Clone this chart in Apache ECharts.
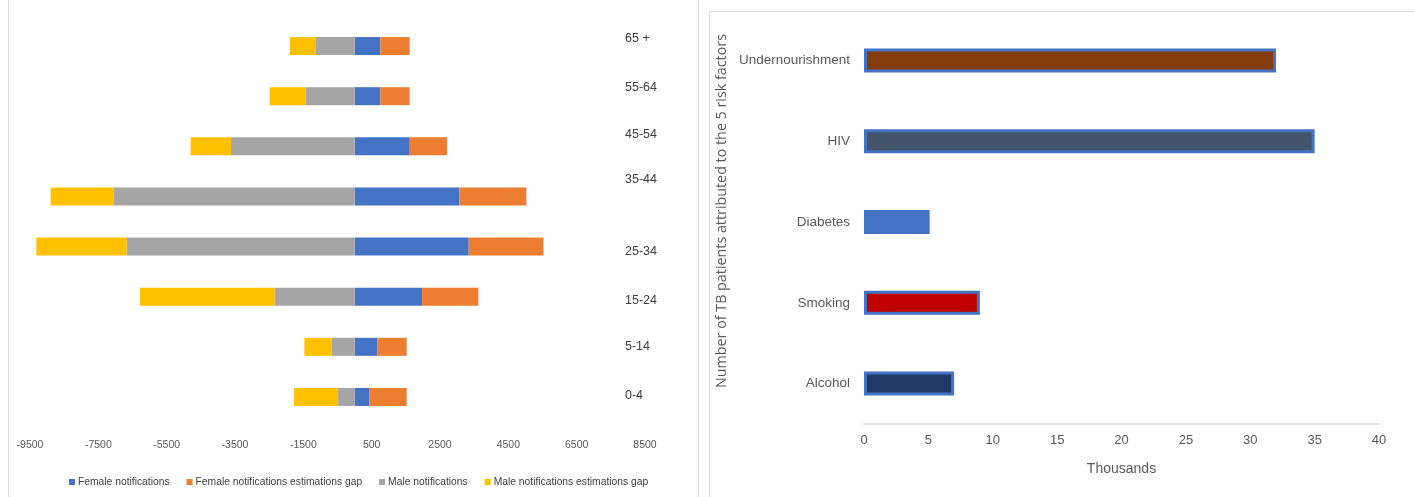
<!DOCTYPE html>
<html>
<head>
<meta charset="utf-8">
<script src="https://cdn.jsdelivr.net/npm/echarts@6/dist/echarts.min.js"></script>
<style>
html, body { margin: 0; padding: 0; background: #fff; }
#chart { width: 1414px; height: 497px; }
</style>
</head>
<body>
<div id="chart"></div>
<script>
// left chart: TB notifications by age group
var ageGroups = ['0-4', '5-14', '15-24', '25-34', '35-44', '45-54', '55-64', '65 +'];
var femaleNotif = [433, 667, 1976, 3340, 3067, 1613, 755, 755];
var femaleGap = [1092, 858, 1648, 2186, 1961, 1095, 858, 858];
var maleNotif = [-483, -679, -2339, -6670, -7060, -3615, -1440, -1150];
var maleGap = [-1288, -790, -3940, -2643, -1835, -1183, -1045, -740];
var pyramidTicks = [-9500, -7500, -5500, -3500, -1500, 500, 2500, 4500, 6500, 8500];

// right chart: risk factors (thousands)
var riskFactors = ['Alcohol', 'Smoking', 'Diabetes', 'HIV', 'Undernourishment'];
var riskValues = [7, 9, 5.1, 35, 32];
var riskColors = ['#1F3864', '#C00000', '#4472C4', '#44546A', '#843C0C'];

var narrow = "'Liberation Sans', Arial, sans-serif";

// small vertical nudges of the age labels, like in the original text boxes
var labelShift = {'0-4': -1, '5-14': 0, '15-24': 4, '25-34': 5, '35-44': -17, '45-54': -12, '55-64': -9, '65 +': -8};
var rich = {};
ageGroups.forEach(function (g, i) {
	var d = labelShift[g];
	rich['s' + i] = {
		fontFamily: narrow,
		fontSize: 12.5,
		color: '#404040',
		padding: d < 0 ? [0, 0, -2 * d, 0] : [2 * d, 0, 0, 0]
	};
});

var myChart = echarts.init(document.getElementById('chart'));
option = {
	animation: false,
	backgroundColor: '#fff',
	graphic: [
		{ type: 'rect', shape: { x: 8.5, y: -2, width: 690, height: 502 }, style: { fill: 'none', stroke: '#d9d9d9', lineWidth: 1 }, silent: true },
		{ type: 'rect', shape: { x: 709.5, y: 11.5, width: 710, height: 492 }, style: { fill: 'none', stroke: '#d9d9d9', lineWidth: 1 }, silent: true }
	],
	legend: {
		data: ['Female notifications', 'Female notifications estimations gap', 'Male notifications', 'Male notifications estimations gap'],
		left: 64,
		top: 472,
		icon: 'rect',
		itemWidth: 6,
		itemHeight: 6,
		itemGap: 17,
		textStyle: { fontFamily: narrow, fontSize: 10.3, color: '#404040', padding: [0, 0, 0, -2] }
	},
	grid: [
		{ left: 30, right: 769, top: 21, height: 401 },
		{ left: 864, right: 35, top: 20, height: 404 }
	],
	xAxis: [
		{
			gridIndex: 0,
			type: 'value',
			min: -9500,
			max: 8500,
			axisLine: { show: false },
			axisTick: { show: false },
			splitLine: { show: false },
			axisLabel: {
				customValues: pyramidTicks,
				formatter: function (v) { return String(v); },
				margin: 18,
				fontFamily: narrow,
				fontSize: 10.5,
				color: '#595959'
			}
		},
		{
			gridIndex: 1,
			type: 'value',
			min: 0,
			max: 40,
			interval: 5,
			name: 'Thousands',
			nameLocation: 'middle',
			nameGap: 38,
			nameTextStyle: { fontFamily: narrow, fontSize: 14, color: '#595959' },
			axisLine: { show: true, lineStyle: { color: '#d9d9d9', width: 1.5 } },
			axisTick: { show: false },
			splitLine: { show: false },
			axisLabel: { margin: 10, fontFamily: narrow, fontSize: 13, color: '#595959' }
		}
	],
	yAxis: [
		{
			gridIndex: 0,
			type: 'category',
			data: ageGroups,
			position: 'right',
			offset: -22,
			axisLine: { show: false },
			axisTick: { show: false },
			axisLabel: {
				margin: 2,
				align: 'left',
				formatter: function (v) {
					return '{s' + ageGroups.indexOf(v) + '|' + v + '}';
				},
				rich: rich
			}
		},
		{
			gridIndex: 1,
			type: 'category',
			data: riskFactors,
			name: 'Number of TB patients attributed to the 5 risk factors',
			nameLocation: 'middle',
			nameGap: 135,
			nameTextStyle: { fontFamily: 'Open Sans', fontSize: 14.3, color: '#595959', padding: [0, 0, 0, 22] },
			axisLine: { show: false },
			axisTick: { show: false },
			axisLabel: { margin: 14, fontFamily: narrow, fontSize: 13.5, color: '#595959' }
		}
	],
	series: [
		{
			name: 'Female notifications', type: 'bar', stack: 'pop', barWidth: 18,
			xAxisIndex: 0, yAxisIndex: 0,
			itemStyle: { color: '#4472C4' }, data: femaleNotif
		},
		{
			name: 'Female notifications estimations gap', type: 'bar', stack: 'pop', barWidth: 18,
			xAxisIndex: 0, yAxisIndex: 0,
			itemStyle: { color: '#ED7D31' }, data: femaleGap
		},
		{
			name: 'Male notifications', type: 'bar', stack: 'pop', barWidth: 18,
			xAxisIndex: 0, yAxisIndex: 0,
			itemStyle: { color: '#A5A5A5' }, data: maleNotif
		},
		{
			name: 'Male notifications estimations gap', type: 'bar', stack: 'pop', barWidth: 18,
			xAxisIndex: 0, yAxisIndex: 0,
			itemStyle: { color: '#FFC000' }, data: maleGap
		},
		{
			name: 'Risk factors', type: 'bar', barWidth: 24,
			xAxisIndex: 1, yAxisIndex: 1,
			data: riskValues.map(function (v, i) {
				return {
					value: v,
					itemStyle: { color: riskColors[i], borderColor: '#4472C4', borderWidth: riskFactors[i] == 'Diabetes' ? 0 : 3 }
				};
			})
		}
	]
};
myChart.setOption(option);
</script>
</body>
</html>
